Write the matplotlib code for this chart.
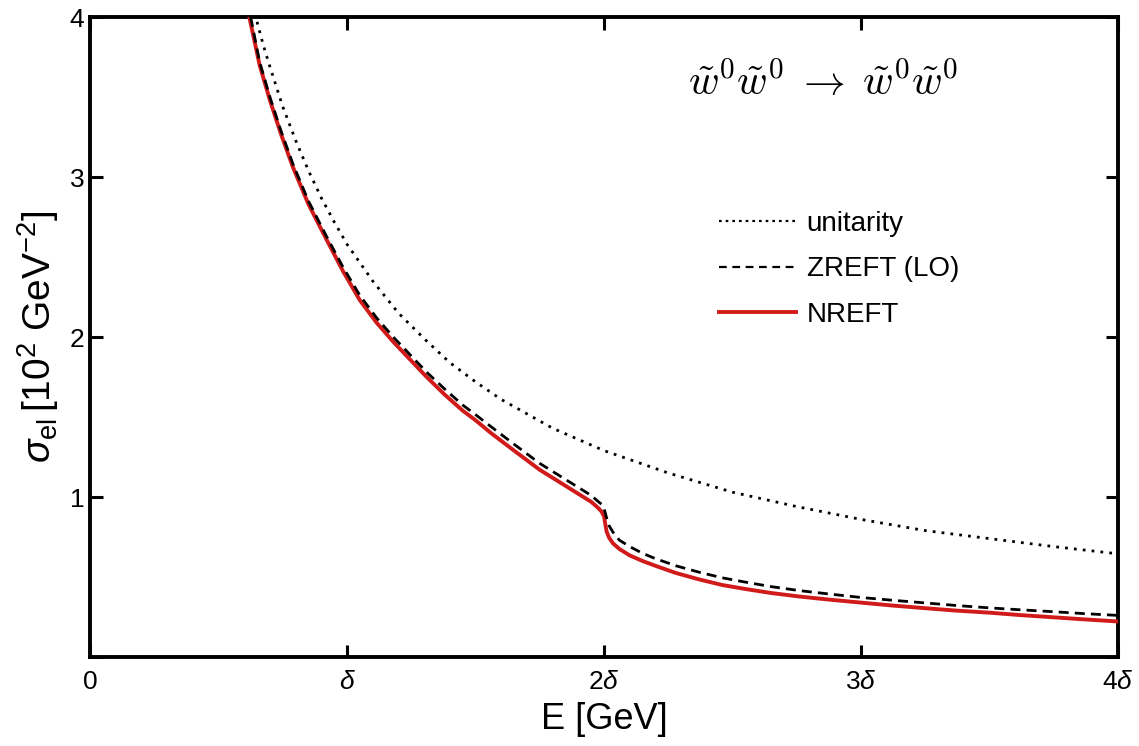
"""Elastic cross section of wino pairs: unitarity bound, ZREFT (LO) and NREFT."""

import matplotlib

matplotlib.use("Agg")

import matplotlib.pyplot as plt
from matplotlib.lines import Line2D

# energies in units of delta, cross sections in 10^2 GeV^-2
E_UNITARITY = [0.65, 0.675, 0.70, 0.75, 0.80, 0.85, 0.90, 0.95, 1.00, 1.10, 1.20,
               1.30, 1.40, 1.50, 1.60, 1.70, 1.80, 1.90, 2.00, 2.25, 2.50, 2.75,
               3.00, 3.25, 3.50, 3.75, 4.00]
SIGMA_UNITARITY = [3.97, 3.82, 3.69, 3.44, 3.23, 3.04, 2.87, 2.72, 2.58, 2.35, 2.15,
                   1.99, 1.84, 1.72, 1.61, 1.52, 1.43, 1.36, 1.29, 1.15, 1.03, 0.94,
                   0.86, 0.79, 0.74, 0.69, 0.645]

E_NREFT = [0.62, 0.66, 0.70, 0.745, 0.79, 0.85, 0.92, 0.985, 1.05, 1.115, 1.18,
           1.245, 1.31, 1.38, 1.45, 1.50, 1.56, 1.65, 1.75, 1.85, 1.92, 1.95,
           1.975, 1.99, 2.00, 2.005, 2.01, 2.02, 2.035, 2.06, 2.10, 2.15, 2.20,
           2.28, 2.37, 2.46, 2.55, 2.65, 2.76, 2.88, 3.00, 3.12, 3.25, 3.37,
           3.50, 3.62, 3.75, 3.87, 4.00]
SIGMA_NREFT = [4.00, 3.70, 3.48, 3.26, 3.06, 2.83, 2.61, 2.41, 2.23, 2.09, 1.97,
               1.86, 1.75, 1.64, 1.54, 1.48, 1.40, 1.29, 1.17, 1.07, 1.00, 0.97,
               0.935, 0.91, 0.88, 0.83, 0.785, 0.745, 0.71, 0.675, 0.635, 0.60, 0.57,
               0.525, 0.485, 0.45, 0.425, 0.40, 0.378, 0.358, 0.34, 0.322, 0.305,
               0.29, 0.277, 0.262, 0.248, 0.235, 0.222]

E_ZREFT = [0.625, 0.66, 0.70, 0.745, 0.79, 0.85, 0.92, 0.985, 1.05, 1.115, 1.18,
           1.245, 1.31, 1.38, 1.45, 1.50, 1.56, 1.65, 1.75, 1.85, 1.92, 1.95,
           1.975, 1.99, 2.00, 2.005, 2.01, 2.02, 2.035, 2.06, 2.10, 2.15, 2.20,
           2.28, 2.37, 2.46, 2.55, 2.65, 2.76, 2.88, 3.00, 3.12, 3.25, 3.37,
           3.50, 3.62, 3.75, 3.87, 4.00]
SIGMA_ZREFT = [4.00, 3.72, 3.50, 3.28, 3.08, 2.85, 2.63, 2.435, 2.26, 2.12, 2.00,
               1.89, 1.78, 1.675, 1.575, 1.515, 1.44, 1.33, 1.21, 1.11, 1.04, 1.01,
               0.975, 0.955, 0.93, 0.90, 0.87, 0.82, 0.78, 0.73, 0.69, 0.648, 0.615,
               0.57, 0.53, 0.495, 0.468, 0.44, 0.415, 0.393, 0.372, 0.355, 0.338,
               0.322, 0.307, 0.295, 0.283, 0.271, 0.26]

X_TICKS = [0, 1, 2, 3, 4]
X_TICK_LABELS = ["0", r"$\delta$", r"$2\delta$", r"$3\delta$", r"$4\delta$"]
Y_TICKS = [0, 1, 2, 3, 4]
Y_TICK_LABELS = ["", "1", "2", "3", "4"]

RED = "#d11a1a"

plt.rcParams["font.family"] = ["Liberation Sans", "DejaVu Sans"]
plt.rcParams["mathtext.fontset"] = "custom"
plt.rcParams["mathtext.rm"] = "Liberation Sans"
plt.rcParams["mathtext.it"] = "Liberation Sans:italic"
plt.rcParams["mathtext.bf"] = "Liberation Sans:bold"


def main() -> None:
    fig = plt.figure(figsize=(11.39, 7.46), dpi=100)
    ax = fig.add_axes([0.079, 0.1193, 0.9026, 0.8579])

    ax.plot(E_NREFT, SIGMA_NREFT, color=RED, linewidth=2.8, zorder=3)
    ax.plot(E_ZREFT, SIGMA_ZREFT, color="black", linewidth=2.0,
            linestyle=(0, (3.6, 2.2)), zorder=4)
    ax.plot(E_UNITARITY, SIGMA_UNITARITY, color="black", linewidth=2.0,
            linestyle=(0, (1.0, 2.2)), zorder=4)

    ax.set_xlim(0, 4)
    ax.set_ylim(0, 4)
    ax.set_xticks(X_TICKS)
    ax.set_xticklabels(X_TICK_LABELS, fontsize=19)
    ax.set_yticks(Y_TICKS)
    ax.set_yticklabels(Y_TICK_LABELS, fontsize=19)
    ax.tick_params(direction="in", length=9, width=2.2, top=True, right=True)
    ax.tick_params(axis="x", pad=9)
    ax.tick_params(axis="y", pad=4)
    for spine in ax.spines.values():
        spine.set_linewidth(2.8)

    ax.set_xlabel("E [GeV]", fontsize=26, labelpad=6)
    ax.set_ylabel(r"$\sigma_{\mathrm{el}}\,[10^2\ \mathrm{GeV}^{-2}]$",
                  fontsize=28, labelpad=6)

    ax.text(0.713, 0.896,
            r"$\tilde{w}^0\tilde{w}^0\;\rightarrow\;\tilde{w}^0\tilde{w}^0$",
            math_fontfamily="cm", fontsize=30, ha="center", va="center",
            transform=ax.transAxes)

    handles = [
        Line2D([], [], color="black", linewidth=1.6, linestyle=(0, (1.2, 1.8))),
        Line2D([], [], color="black", linewidth=1.6, linestyle=(0, (3.5, 2.5))),
        Line2D([], [], color=RED, linewidth=2.8),
    ]
    labels = ["unitarity", "ZREFT (LO)", "NREFT"]
    ax.legend(handles, labels, loc="upper left", bbox_to_anchor=(0.612, 0.697),
              frameon=False, fontsize=20, handlelength=2.77, handletextpad=0.38,
              labelspacing=0.7, borderpad=0, borderaxespad=0)

    fig.savefig("out.png", dpi=100)
    plt.close(fig)


if __name__ == "__main__":
    main()
